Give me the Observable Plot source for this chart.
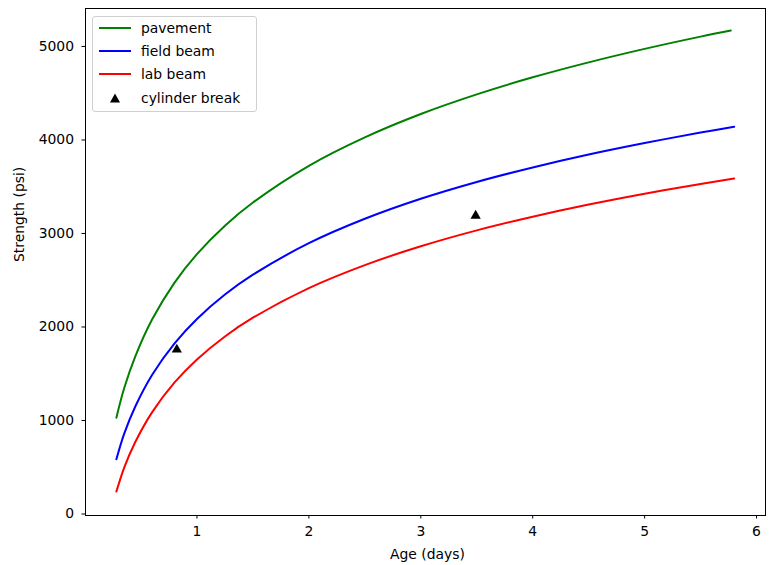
<!DOCTYPE html>
<html>
<head>
<meta charset="utf-8">
<script src="https://cdn.jsdelivr.net/npm/d3@7"></script>
<script src="https://cdn.jsdelivr.net/npm/@observablehq/plot@0.6"></script>
<style>
  html, body { margin: 0; padding: 0; background: #fff; }
  #wrap { position: relative; width: 769px; height: 565px; font-family: "DejaVu Sans", sans-serif; }
  #legend { position: absolute; left: 92px; top: 16px; width: 165px; height: 96px;
    border: 1px solid #d0d0d0; border-radius: 3px; background: rgba(255,255,255,0.85);
    font-size: 13.9px; color: #000; box-sizing: border-box; }
  .row { position: absolute; left: 0; height: 18px; display: flex; align-items: center; }
  .row svg { margin-left: 5px; margin-right: 9px; }
</style>
</head>
<body>
<div id="wrap"></div>
<script>
// ---- data ----
const pavementAge = [0.28, 0.35, 0.45, 0.6, 0.8, 1.0, 1.25, 1.5, 2.0, 2.5, 3.0, 3.5, 4.0, 4.5, 5.0, 5.5, 5.77];
const pavement    = [1030, 1347, 1689, 2082, 2475, 2779, 3083, 3331, 3724, 4028, 4278, 4488, 4670, 4830, 4974, 5105, 5170];
const beamAge     = [0.28, 0.35, 0.45, 0.6, 0.8, 1.0, 1.25, 1.5, 2.0, 2.5, 3.0, 3.5, 4.0, 4.5, 5.0, 5.5, 5.8];
const fieldBeam   = [585, 859, 1152, 1489, 1825, 2086, 2347, 2559, 2896, 3157, 3371, 3551, 3706, 3844, 3967, 4079, 4141];
const labBeam     = [240, 497, 773, 1090, 1407, 1653, 1899, 2099, 2416, 2662, 2863, 3033, 3179, 3309, 3425, 3530, 3589];
const cylinderAge = [0.82, 3.49];
const cylinderBreak = [1758, 3190];
const xTicks = [1, 2, 3, 4, 5, 6];
const yTicks = [0, 1000, 2000, 3000, 4000, 5000];
const seriesNames = ["pavement", "field beam", "lab beam", "cylinder break"];
const seriesColors = ["#008000", "#0000ff", "#ff0000", "#000000"];

const toRows = (xs, ys) => xs.map((x, i) => ({x, y: ys[i]}));
const pav = toRows(pavementAge, pavement);
const fb = toRows(beamAge, fieldBeam);
const lb = toRows(beamAge, labBeam);
const cyl = toRows(cylinderAge, cylinderBreak);

const chart = Plot.plot({
  width: 769,
  height: 565,
  marginLeft: 85,
  marginRight: 4,
  marginTop: 8,
  marginBottom: 50,
  style: { fontFamily: "DejaVu Sans, sans-serif", fontSize: "13.9px", background: "#fff", color: "#000" },
  x: { domain: [0.004, 6.08] },
  y: { domain: [-16, 5406] },
  marks: [
    Plot.axisX({ ticks: xTicks, tickFormat: d3.format("d"), tickSize: 3.5, tickPadding: 7, label: null, fontSize: 13.9 }),
    Plot.axisY({ ticks: yTicks, tickFormat: d3.format("d"), tickSize: 3.5, tickPadding: 8, label: null, fontSize: 13.9 }),
    Plot.text(["Age (days)"], { frameAnchor: "bottom", dy: 43, dx: 2, fontSize: 13.9 }),
    Plot.text(["Strength (psi)"], { frameAnchor: "left", rotate: -90, dx: -66, fontSize: 13.9 }),
    Plot.line(pav, { x: "x", y: "y", stroke: seriesColors[0], strokeWidth: 2, curve: "catmull-rom" }),
    Plot.line(fb, { x: "x", y: "y", stroke: seriesColors[1], strokeWidth: 2, curve: "catmull-rom" }),
    Plot.line(lb, { x: "x", y: "y", stroke: seriesColors[2], strokeWidth: 2, curve: "catmull-rom" }),
    Plot.dot(cyl, { x: "x", y: "y", symbol: "triangle", fill: seriesColors[3], r: 3.8 }),
    Plot.frame({ stroke: "#000", strokeWidth: 1 })
  ]
});

const wrap = document.getElementById("wrap");
wrap.appendChild(chart);

// legend
const legend = document.createElement("div");
legend.id = "legend";
seriesNames.forEach((name, i) => {
  const row = document.createElement("div");
  row.className = "row";
  row.style.top = (2 + i * 23.2) + "px";
  const sw = i < 3
    ? `<svg width="34" height="10"><line x1="1" y1="5" x2="33" y2="5" stroke="${seriesColors[i]}" stroke-width="2"/></svg>`
    : `<svg width="34" height="12"><path d="M17,1.5 L22,10.5 L12,10.5 Z" fill="#000"/></svg>`;
  row.innerHTML = sw + `<span>${name}</span>`;
  legend.appendChild(row);
});
wrap.appendChild(legend);
</script>
</body>
</html>
